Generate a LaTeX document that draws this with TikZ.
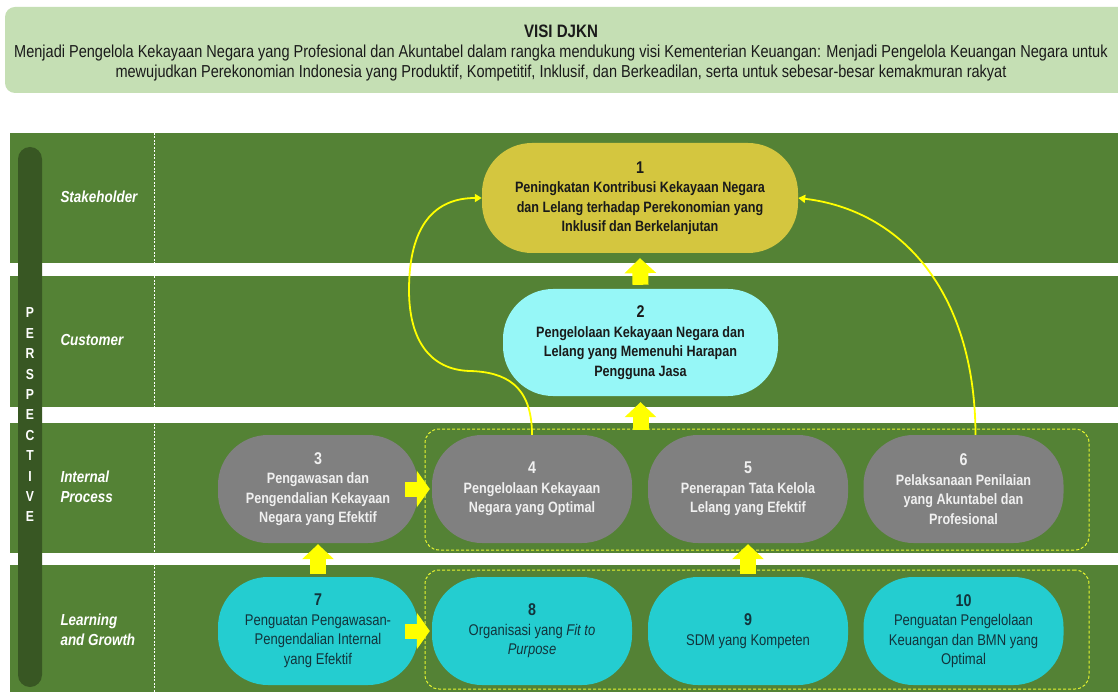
\documentclass[tikz,border=0pt]{standalone}
\usepackage{fontspec}
\setmainfont{Liberation Sans}[FakeStretch=0.84]
\usetikzlibrary{arrows.meta}
\definecolor{band}{HTML}{548235}
\definecolor{bar}{HTML}{385723}
\definecolor{banner}{HTML}{C5DFB4}
\definecolor{olive}{HTML}{D4C63F}
\definecolor{lcyan}{HTML}{96F7F7}
\definecolor{greyn}{HTML}{808080}
\definecolor{tealn}{HTML}{24CDD0}
\definecolor{grp}{HTML}{E6F530}
\definecolor{arr}{HTML}{FFFF00}
\definecolor{darktxt}{HTML}{1A1A1A}
\definecolor{tealtxt}{HTML}{12343C}
\newcommand{\numlbl}[1]{{\bfseries\fontsize{17}{19.5}\selectfont #1}}
\begin{document}
\begin{tikzpicture}[x=1pt,y=-1pt,
  obj/.style={rectangle, rounded corners=50pt, align=center, inner sep=2pt,
    minimum width=200pt, minimum height=108pt, font=\fontsize{15.5}{19.5}\selectfont},
  stakebox/.style={obj, fill=olive, text=darktxt, font=\bfseries\fontsize{15}{19.5}\selectfont},
  custbox/.style={obj, fill=lcyan, text=darktxt, font=\bfseries\fontsize{15}{19.5}\selectfont},
  procbox/.style={obj, fill=greyn, text=white!94!black, font=\bfseries\fontsize{15}{19.5}\selectfont},
  learnbox/.style={obj, fill=tealn, text=tealtxt},
  grpbox/.style={draw=grp, line width=1pt, dash pattern=on 3pt off 2pt, rounded corners=14pt, minimum width=664pt},
  blkv/.style={draw=arr, line width=16pt, -{Triangle[width=31pt,length=15pt]}},
  blkh/.style={draw=arr, line width=15pt, -{Triangle[width=36pt,length=13pt]}},
  curv/.style={draw=arr, line width=1.8pt, -{Triangle[width=8pt,length=7pt]}},
  lane/.style={text=white, font=\bfseries\itshape\fontsize{16}{20}\selectfont, anchor=west, align=left},
  persp/.style={text=white, font=\bfseries\fontsize{14.5}{15}\selectfont}
]
\useasboundingbox (0,0) rectangle (1118,692);
\fill[white] (0,0) rectangle (1118,692);
% banner
\fill[banner, rounded corners=10pt] (5,7) rectangle (1130,93);
\node[text=darktxt, font=\bfseries\fontsize{18}{20}\selectfont] (visi) at (561,31) {VISI DJKN};
\node[text=darktxt, align=center, font=\fontsize{17.3}{20}\selectfont] (visitext) at (561,63)
 {Menjadi Pengelola Kekayaan Negara yang Profesional dan Akuntabel dalam rangka mendukung visi Kementerian Keuangan: Menjadi Pengelola Keuangan Negara untuk\\
  mewujudkan Perekonomian Indonesia yang Produktif, Kompetitif, Inklusif, dan Berkeadilan, serta untuk sebesar-besar kemakmuran rakyat};
% bands
\fill[band] (10,133) rectangle (1118,263);
\fill[band] (10,276) rectangle (1118,407);
\fill[band] (10,423) rectangle (1118,553);
\fill[band] (10,565) rectangle (1118,692);
\draw[white, line width=0.6pt, dash pattern=on 2pt off 1.5pt] (154,133) -- (154,692);
% perspective bar
\fill[bar, rounded corners=12pt] (18,147) rectangle (42,687);
\foreach \l [count=\i from 0] in {P,E,R,S,P,E,C,T,I,V,E}
  \node[persp] (p\i) at (30,{313+20.4*\i}) {\l};
% lane labels
\node[lane] (lstake) at (57,197) {Stakeholder};
\node[lane] (lcust) at (57,340) {Customer};
\node[lane] (lproc) at (57,487) {Internal\\Process};
\node[lane] (llearn) at (57,630) {Learning\\and Growth};
% groups
\node[grpbox, minimum height=121pt] (g1) at (757,489.5) {};
\node[grpbox, minimum height=119pt] (g2) at (757,629.5) {};
% objectives
\node[stakebox, minimum width=316pt, minimum height=110pt] (n1) at (640,198)
  {\numlbl{1}\\Peningkatan Kontribusi Kekayaan Negara\\dan Lelang terhadap Perekonomian yang\\Inklusif dan Berkelanjutan};
\node[custbox, minimum width=275pt, minimum height=107pt] (n2) at (640.5,342.5)
  {\numlbl{2}\\Pengelolaan Kekayaan Negara dan\\Lelang yang Memenuhi Harapan\\Pengguna Jasa};
\node[procbox] (n3) at (318,489) {\numlbl{3}\\Pengawasan dan\\Pengendalian Kekayaan\\Negara yang Efektif};
\node[procbox] (n4) at (532,489) {\numlbl{4}\\Pengelolaan Kekayaan\\Negara yang Optimal};
\node[procbox] (n5) at (748,489) {\numlbl{5}\\Penerapan Tata Kelola\\Lelang yang Efektif};
\node[procbox] (n6) at (963.5,489) {\numlbl{6}\\Pelaksanaan Penilaian\\yang Akuntabel dan\\Profesional};
\node[learnbox] (n7) at (318,631) {\numlbl{7}\\Penguatan Pengawasan-\\Pengendalian Internal\\yang Efektif};
\node[learnbox] (n8) at (532,631) {\numlbl{8}\\Organisasi yang \textit{Fit to}\\\textit{Purpose}};
\node[learnbox] (n9) at (748,631) {\numlbl{9}\\SDM yang Kompeten};
\node[learnbox] (n10) at (963.5,631) {\numlbl{10}\\Penguatan Pengelolaan\\Keuangan dan BMN yang\\Optimal};
% block arrows
\draw[blkv] ([yshift=4pt]n2.north) -- ([yshift=-5pt]n1.south);
\draw[blkv] ([yshift=-1pt]n2.south |- g1.north) -- ([yshift=-6pt]n2.south);
\draw[blkv] ([yshift=3pt]n7.north) -- ([yshift=-1pt]n3.south);
\draw[blkv] ([yshift=-4pt]n5.south |- g2.north) -- ([yshift=-1pt]n5.south);
\draw[blkh] ([xshift=-13pt]n3.east) -- ([xshift=-2pt]n4.west);
\draw[blkh] ([xshift=-13pt]n7.east) -- ([xshift=-2pt]n8.west);
% curved arrows
\draw[curv] (n4.north) .. controls (532,385) and (505,372) .. (470,371)
  .. controls (430,370) and (409,340) .. (409,290)
  .. controls (409,225) and (435,198) .. (n1.west);
\draw[curv] ([xshift=12pt]n6.north) .. controls (975,290) and (900,210) .. (n1.east);
\end{tikzpicture}
\end{document}
